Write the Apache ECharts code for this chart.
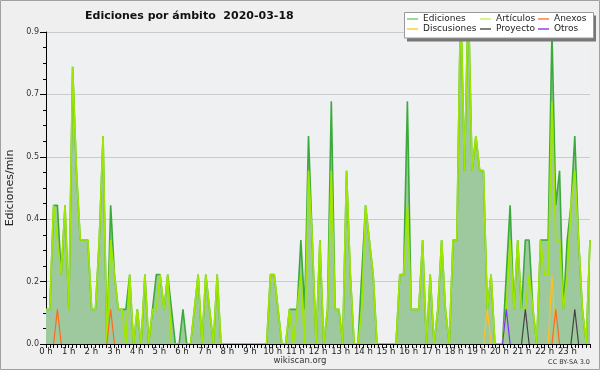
<!DOCTYPE html>
<html><head><meta charset="utf-8">
<script src="https://cdn.jsdelivr.net/npm/echarts@6/dist/echarts.min.js"></script>
<style>html,body{margin:0;padding:0;background:#efefef;}#c{width:600px;height:370px;}</style>
</head><body><div id="c"></div><script>
// 10-minute bins, 144 points over the day (Ediciones/min)
const hourLabels = ['0 h','1 h','2 h','3 h','4 h','5 h','6 h','7 h','8 h','9 h','10 h','11 h','12 h','13 h','14 h','15 h','16 h','17 h','18 h','19 h','20 h','21 h','22 h','23 h'];
const ediciones = [
0.1,0.1,0.4,0.4,0.2,0.4,0.1,0.8,0.5,0.3,
0.3,0.3,0.1,0.1,0.3,0.6,0,0.4,0.2,0.1,
0.1,0.1,0.2,0,0.1,0,0.2,0,0.1,0.2,
0.2,0.1,0.2,0.1,0,0,0.1,0,0,0.1,
0.2,0,0.2,0.1,0,0.2,0,0,0,0,
0,0,0,0,0,0,0,0,0,0.2,
0.2,0.1,0,0,0.1,0.1,0.1,0.3,0.1,0.6,
0.3,0,0.3,0,0.1,0.7,0.1,0.1,0,0.5,
0.2,0,0,0.2,0.4,0.3,0.2,0,0,0,
0,0,0,0.2,0.2,0.7,0.1,0.1,0.1,0.3,
0,0.2,0,0.1,0.3,0.1,0,0.3,0.3,1.0,
0.5,1.0,0.5,0.6,0.5,0.5,0.1,0.2,0,0,
0,0.2,0.4,0.1,0.3,0.1,0.3,0.3,0.1,0,
0.3,0.3,0.3,0.9,0.4,0.5,0.1,0.3,0.4,0.6,
0.3,0.1,0,0.3];
const articulos = [
0.1,0.1,0.4,0.3,0.2,0.4,0.1,0.8,0.5,0.3,
0.3,0.3,0.1,0.1,0.3,0.6,0,0.3,0.2,0.1,
0.1,0,0.2,0,0.1,0,0.2,0,0.1,0.1,
0.2,0.1,0.2,0,0,0,0,0,0,0.1,
0.2,0,0.2,0.1,0,0.2,0,0,0,0,
0,0,0,0,0,0,0,0,0,0.2,
0.2,0.1,0,0,0.1,0,0.1,0.2,0,0.5,
0.3,0,0.3,0,0.1,0.5,0.1,0.1,0,0.5,
0.2,0,0,0.1,0.4,0.3,0.2,0,0,0,
0,0,0,0.2,0.2,0.4,0.1,0.1,0.1,0.3,
0,0.2,0,0.1,0.3,0.1,0,0.3,0.3,1.0,
0.5,1.0,0.5,0.6,0.5,0.5,0.1,0.2,0,0,
0,0.1,0.3,0.1,0.3,0.1,0.1,0.2,0.1,0,
0.3,0.2,0.2,0.7,0.3,0.3,0.1,0.2,0.4,0.5,
0.3,0.1,0,0.3];
const anexos = [
0,0,0,0.1,0,0,0,0,0,0, 0,0,0,0,0,0,0,0.1,0,0, 0,0,0,0,0,0,0,0,0,0, 0,0,0,0,0,0,0,0,0,0,
0,0,0,0,0,0,0,0,0,0, 0,0,0,0,0,0,0,0,0,0, 0,0,0,0,0,0,0,0,0,0, 0,0,0,0,0,0,0,0,0,0,
0,0,0,0,0,0,0,0,0,0, 0,0,0,0,0,0,0,0,0,0, 0,0,0,0,0,0,0,0,0,0, 0,0,0,0,0,0,0,0,0,0,
0,0,0,0,0,0,0,0,0,0, 0,0,0,0,0.1,0,0,0,0,0, 0,0,0,0];
const discusiones = [
0,0,0,0,0,0,0,0,0,0, 0,0,0,0,0,0,0,0,0,0, 0,0,0,0,0,0,0,0,0,0, 0,0,0,0,0,0,0,0,0,0,
0,0,0,0,0,0,0,0,0,0, 0,0,0,0,0,0,0,0,0,0, 0,0,0,0,0,0,0,0,0,0, 0,0,0,0,0,0,0,0,0,0,
0,0,0,0,0,0,0,0,0,0, 0,0,0,0,0,0,0,0,0,0, 0,0,0,0,0,0,0,0,0,0, 0,0,0,0,0,0,0.1,0,0,0,
0,0,0,0,0,0,0,0,0,0, 0,0,0,0.2,0,0,0,0,0,0, 0,0,0,0];
const proyecto = [
0,0,0,0,0,0,0,0,0,0, 0,0,0,0,0,0,0,0,0,0, 0,0,0,0,0,0,0,0,0,0, 0,0,0,0,0,0,0,0,0,0,
0,0,0,0,0,0,0,0,0,0, 0,0,0,0,0,0,0,0,0,0, 0,0,0,0,0,0,0,0,0,0, 0,0,0,0,0,0,0,0,0,0,
0,0,0,0,0,0,0,0,0,0, 0,0,0,0,0,0,0,0,0,0, 0,0,0,0,0,0,0,0,0,0, 0,0,0,0,0,0,0,0,0,0,
0,0,0,0,0,0,0.1,0,0,0, 0,0,0,0,0,0,0,0,0,0.1, 0,0,0,0];
const otros = [
0,0,0,0,0,0,0,0,0,0, 0,0,0,0,0,0,0,0,0,0, 0,0,0,0,0,0,0,0,0,0, 0,0,0,0,0,0,0,0,0,0,
0,0,0,0,0,0,0,0,0,0, 0,0,0,0,0,0,0,0,0,0, 0,0,0,0,0,0,0,0,0,0, 0,0,0,0,0,0,0,0,0,0,
0,0,0,0,0,0,0,0,0,0, 0,0,0,0,0,0,0,0,0,0, 0,0,0,0,0,0,0,0,0,0, 0,0,0,0,0,0,0,0,0,0,
0,0.1,0,0,0,0,0,0,0,0, 0,0,0,0,0,0,0,0,0,0, 0,0,0,0];
const yTicks = [0,0.18,0.36,0.54,0.72,0.9];

const N = ediciones.length;
const pts = arr => arr.map((v,i) => [i*24/(N-1), v]);
const sparse = arr => arr.map((v,i) => [i*24/(N-1), (v>0 || arr[i-1]>0 || arr[i+1]>0) ? v : null]);
const F = 'DejaVu Sans';

const chart = echarts.init(document.getElementById('c'), null, {renderer:'canvas'});
const small = (name, arr, color) => ({name, type:'line', data:sparse(arr), symbol:'none', connectNulls:false,
  lineStyle:{color, width:1.2}, itemStyle:{color}, z:3, animation:false});
const legendBase = {orient:'vertical', top:14, itemGap:0, padding:0, icon:'rect', itemWidth:11, itemHeight:1.5,
  textStyle:{fontFamily:F, fontSize:9, color:'#222', lineHeight:10}, z:20, selectedMode:false};
chart.setOption({
  animation:false,
  backgroundColor:'#efefef',
  title:{text:'Ediciones por ámbito  2020-03-18', left:80, top:6,
    textStyle:{fontFamily:F, fontWeight:'bold', fontSize:11, color:'#111'}},
  grid:{left:46, right:10, top:32, bottom:26, containLabel:false, outerBoundsMode:'none',
    show:true, backgroundColor:'#eff0f2', borderWidth:0},
  legend:[
    Object.assign({left:407, data:[{name:'Ediciones', itemStyle:{color:'#80c880'}},{name:'Discusiones', itemStyle:{color:'#ffcc33'}}]}, legendBase),
    Object.assign({left:480, data:[{name:'Artículos', itemStyle:{color:'#c8f060'}},{name:'Proyecto', itemStyle:{color:'#555555'}}]}, legendBase),
    Object.assign({left:538, data:[{name:'Anexos', itemStyle:{color:'#ff7f40'}},{name:'Otros', itemStyle:{color:'#9040f0'}}]}, legendBase)
  ],
  xAxis:{type:'value', min:0, max:24, interval:1, z:5,
    axisLine:{show:true, onZero:false, lineStyle:{color:'#000', width:1}},
    axisTick:{show:true, length:4, lineStyle:{color:'#000'}},
    minorTick:{show:true, splitNumber:6, length:4, lineStyle:{color:'#000'}},
    axisLabel:{formatter:v => hourLabels[v] || '', fontFamily:F, fontSize:8.5, color:'#222', margin:3},
    splitLine:{show:false}, minorSplitLine:{show:false}},
  yAxis:{type:'value', min:0, max:0.9, interval:0.18,
    name:'Ediciones/min', nameLocation:'middle', nameGap:30, nameRotate:90,
    nameTextStyle:{fontFamily:F, fontSize:11, color:'#222'},
    axisLine:{show:true, lineStyle:{color:'#000', width:1}},
    axisTick:{show:true, length:6, lineStyle:{color:'#000'}},
    minorTick:{show:true, splitNumber:4, length:3, lineStyle:{color:'#000'}},
    axisLabel:{formatter:v => {const t = yTicks.reduce((a,b)=>Math.abs(b-v)<Math.abs(a-v)?b:a); return t.toFixed(1);},
      fontFamily:F, fontSize:8, color:'#333', margin:7},
    splitLine:{show:true, lineStyle:{color:'#cbcbcb', width:1}}, minorSplitLine:{show:false}},
  graphic:[
    {type:'rect', shape:{x:0.5,y:0.5,width:599,height:369}, style:{fill:null, stroke:'#a0a0a0', lineWidth:1}, z:0, silent:true},
    {type:'rect', shape:{x:407,y:15.5,width:189,height:26}, style:{fill:'#777'}, z:10, silent:true},
    {type:'rect', shape:{x:404.5,y:12.5,width:189,height:25.5}, style:{fill:'#fff', stroke:'#999', lineWidth:1}, z:11, silent:true},
    {type:'text', x:300, y:361, style:{text:'wikiscan.org', fontFamily:F, fontSize:8.5, fill:'#333', align:'center', verticalAlign:'middle'}, z:12},
    {type:'text', x:590, y:362, style:{text:'CC BY-SA 3.0', fontFamily:F, fontSize:6.5, fill:'#333', align:'right', verticalAlign:'middle'}, z:12}
  ],
  series:[
    {name:'Ediciones', type:'line', data:pts(ediciones), symbol:'none', lineStyle:{color:'#3aaa3a', width:1.6},
      itemStyle:{color:'#3aaa3a'}, areaStyle:{color:'#9ec99e', opacity:1}, z:2},
    {name:'Artículos', type:'line', data:pts(articulos), symbol:'none', lineStyle:{color:'#9fe600', width:1.7},
      itemStyle:{color:'#9fe600'}, z:2},
    small('Discusiones', discusiones, '#ffc020'),
    small('Anexos', anexos, '#ff6a20'),
    small('Proyecto', proyecto, '#444444'),
    small('Otros', otros, '#8030ff')
  ]
});
</script></body></html>
